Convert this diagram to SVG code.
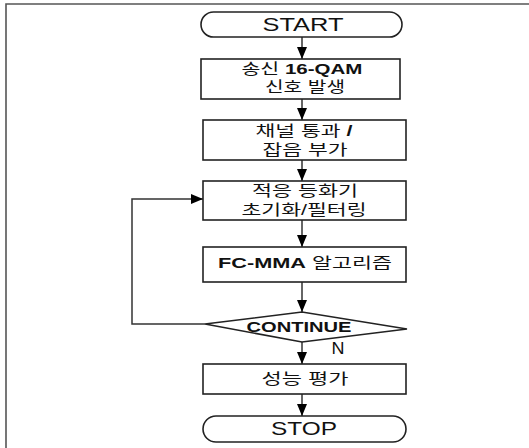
<svg xmlns="http://www.w3.org/2000/svg" width="529" height="448" viewBox="0 0 529 448">
<style>
.shape{fill:#fff;stroke:#222;stroke-width:1.6}
.conn{fill:none;stroke:#333;stroke-width:1.5}
.frame{fill:none;stroke:#555;stroke-width:1.6}
text{font-family:"Liberation Sans","Noto Sans CJK KR",sans-serif;fill:#111;text-anchor:middle}
.b{font-weight:bold}
.t{font-size:15px}
</style>
<defs>
<marker id="ah" viewBox="0 0 12 10" refX="12" refY="5" markerWidth="12" markerHeight="10" markerUnits="userSpaceOnUse" orient="auto">
<path d="M0,0 L12,5 L0,10 Z" fill="#000"/>
</marker>
</defs>
<rect width="529" height="448" fill="#fff"/>
<path class="frame" d="M6,448 V4 H529"/>
<g id="connectors">
<line class="conn" x1="302" y1="37" x2="302" y2="59" marker-end="url(#ah)"/>
<line class="conn" x1="302" y1="99" x2="302" y2="120" marker-end="url(#ah)"/>
<line class="conn" x1="302" y1="160" x2="302" y2="181" marker-end="url(#ah)"/>
<line class="conn" x1="302" y1="220" x2="302" y2="247" marker-end="url(#ah)"/>
<line class="conn" x1="302" y1="282" x2="302" y2="312" marker-end="url(#ah)"/>
<line class="conn" x1="302" y1="342" x2="302" y2="364" marker-end="url(#ah)"/>
<line class="conn" x1="302" y1="394" x2="302" y2="416" marker-end="url(#ah)"/>
<polyline class="conn" points="205,324 132,324 132,199 203,199" marker-end="url(#ah)"/>
<text x="338" y="354" style="font-size:16px" textLength="13" lengthAdjust="spacingAndGlyphs">N</text>
</g>
<g id="start">
<rect class="shape" x="201" y="12" width="201" height="25" rx="12.5"/>
<text x="303" y="31" style="font-size:19px" textLength="81" lengthAdjust="spacingAndGlyphs">START</text>
</g>
<g id="gen">
<rect class="shape" x="201" y="59" width="199" height="40"/>
<text class="t" x="302" y="74" textLength="121" lengthAdjust="spacingAndGlyphs">송신 <tspan class="b">16-QAM</tspan></text>
<text class="t" x="305" y="92" textLength="80" lengthAdjust="spacingAndGlyphs">신호 발생</text>
</g>
<g id="channel">
<rect class="shape" x="203" y="120" width="203" height="40"/>
<text class="t" x="304" y="136" textLength="97" lengthAdjust="spacingAndGlyphs">채널 통과 <tspan class="b">/</tspan></text>
<text class="t" x="305" y="155" textLength="85" lengthAdjust="spacingAndGlyphs">잡음 부가</text>
</g>
<g id="init">
<rect class="shape" x="203" y="181" width="203" height="39"/>
<text class="t" x="305" y="196" textLength="106" lengthAdjust="spacingAndGlyphs">적응 등화기</text>
<text class="t" x="304" y="215" textLength="125" lengthAdjust="spacingAndGlyphs">초기화/필터링</text>
</g>
<g id="fcmma">
<rect class="shape" x="203" y="247" width="203" height="35"/>
<text class="t" x="305" y="268" textLength="174" lengthAdjust="spacingAndGlyphs"><tspan class="b">FC-MMA</tspan> 알고리즘</text>
</g>
<g id="continue">
<polygon class="shape" points="205,324 302,312 407,329 302,342"/>
<text class="t b" x="299" y="332" textLength="105" lengthAdjust="spacingAndGlyphs">CONTINUE</text>
</g>
<g id="eval">
<rect class="shape" x="203" y="364" width="203" height="30"/>
<text class="t" x="305" y="384" textLength="87" lengthAdjust="spacingAndGlyphs">성능 평가</text>
</g>
<g id="stop">
<rect class="shape" x="203" y="416" width="203" height="26" rx="13"/>
<text x="304" y="435" style="font-size:18px" textLength="66" lengthAdjust="spacingAndGlyphs">STOP</text>
</g>
</svg>
